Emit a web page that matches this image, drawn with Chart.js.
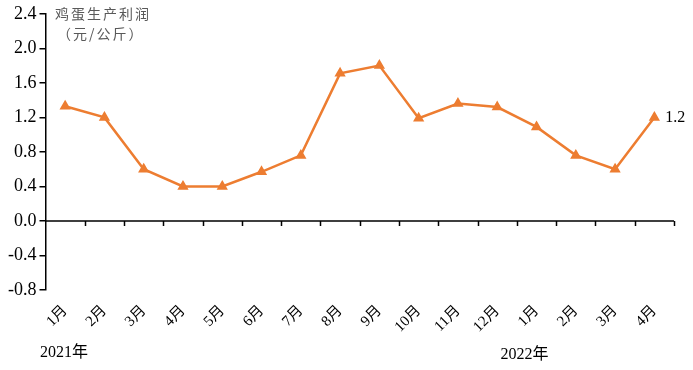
<!DOCTYPE html>
<html>
<head>
<meta charset="utf-8">
<script src="https://cdn.jsdelivr.net/npm/chart.js@4"></script>
<style>
  html, body { margin: 0; padding: 0; background: #fff; }
  #wrap { width: 693px; height: 370px; position: relative; }
</style>
</head>
<body>
<div id="wrap"><canvas id="eggChart"></canvas></div>
<script>
// 鸡蛋生产利润（元/公斤）
const months = ['1月', '2月', '3月', '4月', '5月', '6月', '7月', '8月', '9月', '10月', '11月', '12月', '1月', '2月', '3月', '4月'];
const profit = [1.33, 1.2, 0.6, 0.4, 0.4, 0.57, 0.76, 1.71, 1.8, 1.19, 1.36, 1.32, 1.09, 0.76, 0.6, 1.2];
const yearLabels = ['2021年', '2022年'];
const yearStartIndex = [0, 12];
const yTicks = [-0.8, -0.4, 0.0, 0.4, 0.8, 1.2, 1.6, 2.0, 2.4];

const serif = '"Liberation Serif", "Noto Sans CJK SC", serif';
const orange = '#ED7D31';

// x axis drawn at y = 0, plus year + end labels
const extras = {
  id: 'extras',
  afterDraw(chart) {
    const { ctx, scales: { x, y } } = chart;
    const y0 = y.getPixelForValue(0);
    const step = x.getPixelForValue(1) - x.getPixelForValue(0);
    ctx.save();
    ctx.strokeStyle = '#000';
    ctx.lineWidth = 1.5;
    ctx.beginPath();
    ctx.moveTo(x.left, y0);
    ctx.lineTo(x.right, y0);
    for (let i = 1; i <= months.length; i++) {
      const px = Math.round(x.getPixelForValue(i) - step / 2) + 0.5;
      ctx.moveTo(px, y0);
      ctx.lineTo(px, y0 + 5);
    }
    ctx.stroke();

    ctx.fillStyle = '#000';
    ctx.font = '16px ' + serif;
    ctx.textBaseline = 'middle';
    ctx.textAlign = 'left';
    ctx.fillText(yearLabels[0], 40, 353);
    ctx.fillText(yearLabels[1], x.getPixelForValue(yearStartIndex[1]) - 36, 355);

    const last = profit.length - 1;
    ctx.fillText(profit[last].toFixed(1), x.getPixelForValue(last) + 11, y.getPixelForValue(profit[last]));

    ctx.fillStyle = '#595959';
    ctx.font = '14px "Noto Sans CJK SC", serif';
    ctx.letterSpacing = '2px';
    ctx.fillText('鸡蛋生产利润', 55, 14);
    ctx.fillText('（元/公斤）', 57, 34);
    ctx.restore();
  }
};

new Chart(document.getElementById('eggChart'), {
  type: 'line',
  data: {
    labels: months,
    datasets: [{
      data: profit,
      borderColor: orange,
      backgroundColor: orange,
      borderWidth: 2.5,
      tension: 0,
      pointStyle: 'triangle',
      pointRadius: 4,
      pointBackgroundColor: orange,
      pointBorderColor: orange,
    }],
  },
  options: {
    responsive: true,
    maintainAspectRatio: false,
    animation: false,
    layout: { padding: { top: 4, left: 5, right: 19, bottom: 30 } },
    plugins: { legend: { display: false }, tooltip: { enabled: false } },
    scales: {
      x: {
        type: 'category',
        offset: true,
        grid: { display: false },
        border: { display: false },
        ticks: {
          color: '#000',
          font: { family: serif, size: 15 },
          minRotation: 45,
          maxRotation: 45,
          padding: 4,
          autoSkip: false,
        },
      },
      y: {
        min: -0.8,
        max: 2.4,
        afterBuildTicks: (axis) => { axis.ticks = yTicks.map((v) => ({ value: v })); },
        grid: { drawOnChartArea: false, drawTicks: true, tickLength: 6, color: '#000', lineWidth: 1.5 },
        border: { display: true, color: '#000', width: 1.5 },
        ticks: {
          color: '#000',
          font: { family: serif, size: 18 },
          padding: 3,
          callback: (v) => Number(v).toFixed(1),
        },
      },
    },
  },
  plugins: [extras],
});
</script>
</body>
</html>
